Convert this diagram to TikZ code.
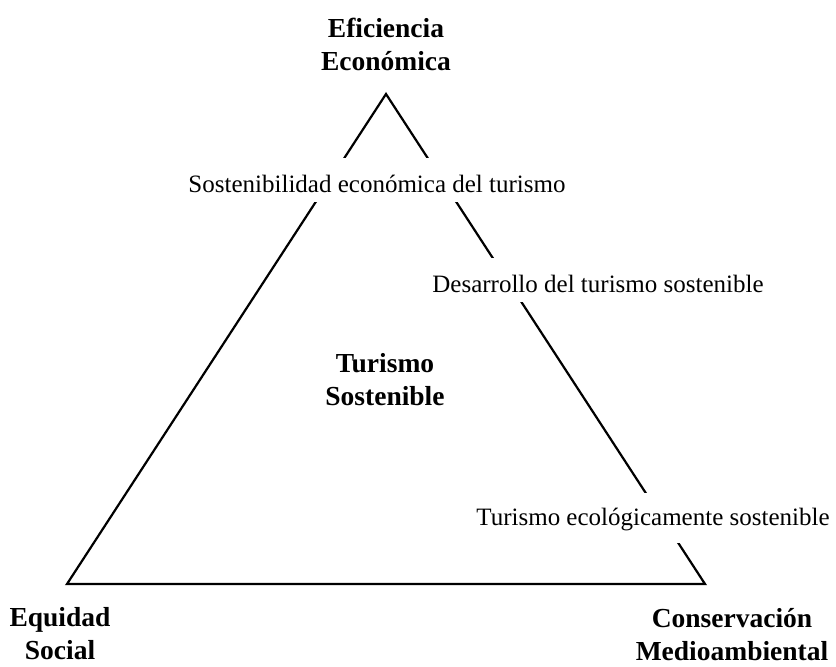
\documentclass[tikz,border=0pt]{standalone}
\usepackage{fontspec}
\setmainfont{Liberation Serif}
\begin{document}
\begin{tikzpicture}[x=1pt,y=-1pt,
  edge/.style={line width=2.2pt,line join=miter},
  boldlab/.style={font=\fontsize{27.5}{33}\selectfont\bfseries,align=center,anchor=base,inner sep=0pt},
  sidelab/.style={font=\fontsize{25}{30}\selectfont,anchor=base,fill=white,inner xsep=3pt,inner ysep=0pt,text height=34pt,text depth=10pt}]
\useasboundingbox (0,0) rectangle (836,667);
\coordinate (top) at (386,94);
\coordinate (bl) at (67,584);
\coordinate (br) at (705,584);
\draw[edge] (top) -- (br) -- (bl) -- cycle;
\node[sidelab] (econ) at (377,192) {Sostenibilidad económica del turismo};
\node[sidelab] (desa) at (598,292) {Desarrollo del turismo sostenible};
\node[sidelab,text height=32pt,text depth=18pt] (ecol) at (653,525) {Turismo ecológicamente sostenible};
\node[boldlab] (efi) at (386,70) {Eficiencia\\Económica};
\node[boldlab] (ts) at (385,405) {Turismo\\Sostenible};
\node[boldlab] (eq) at (60,659) {Equidad\\Social};
\node[boldlab] (cons) at (732,660) {Conservación\\Medioambiental};
\end{tikzpicture}
\end{document}
